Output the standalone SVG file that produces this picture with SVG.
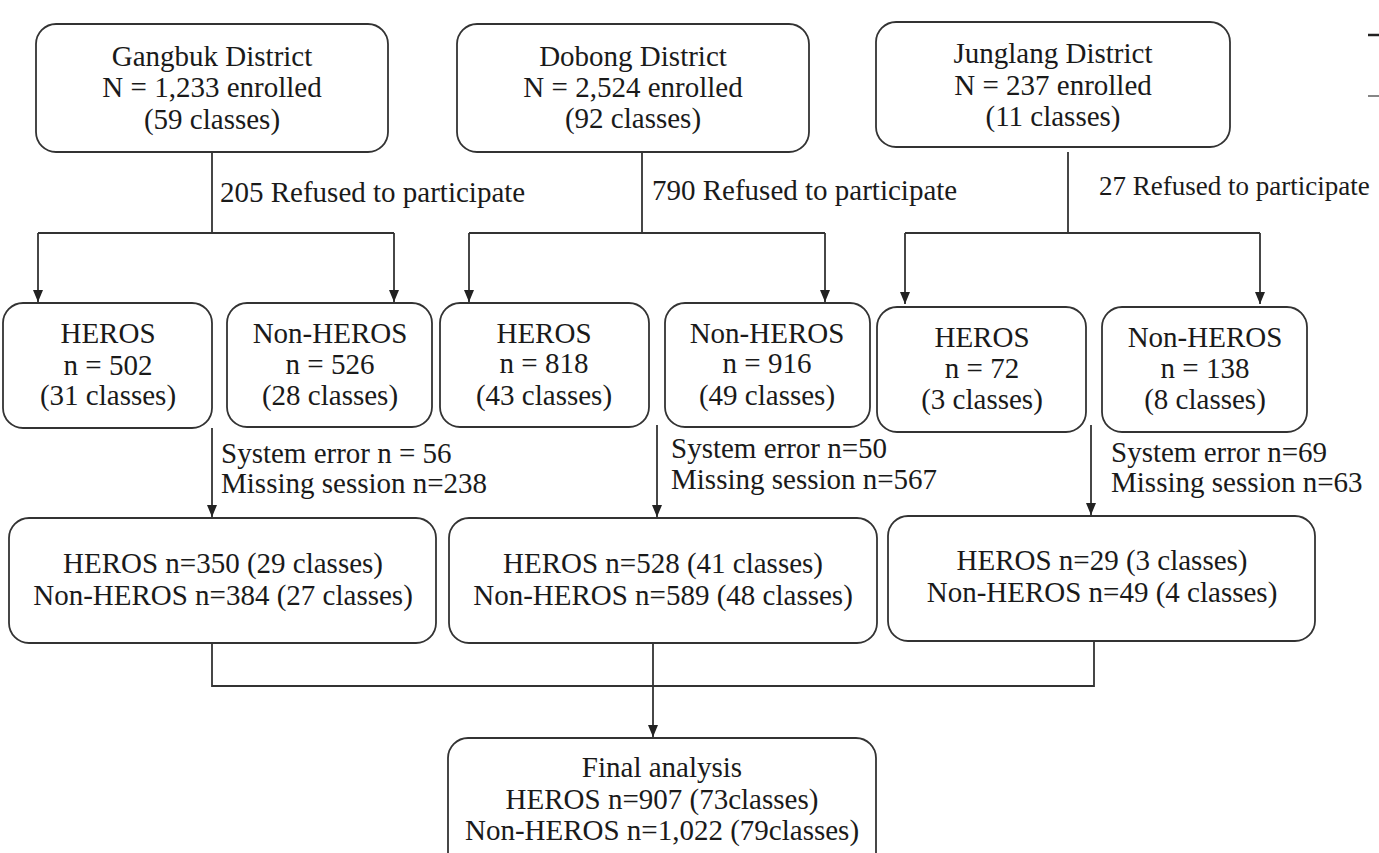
<svg xmlns="http://www.w3.org/2000/svg" width="1379" height="853" viewBox="0 0 1379 853">
<defs>
<marker id="arr" viewBox="0 0 12 12" markerWidth="12" markerHeight="12" refX="12" refY="6" orient="auto" markerUnits="userSpaceOnUse">
<path d="M0,1 L12,6 L0,11 z" fill="#222"/>
</marker>
<style>
.box{fill:#fff;stroke:#333;stroke-width:1.8}
.ln{fill:none;stroke:#333;stroke-width:1.8}
.ar{fill:none;stroke:#333;stroke-width:1.8;marker-end:url(#arr)}
text{font-family:"Liberation Serif","Times New Roman",serif;font-size:29px;fill:#1a1a1a}
.c{text-anchor:middle}
</style>
</defs>
<rect width="1379" height="853" fill="#fff"/>
<g id="connectors">
<path class="ln" d="M212,152 V233 M38,233 H394"/>
<path class="ar" d="M38,233 V302"/>
<path class="ar" d="M394,233 V302"/>
<path class="ln" d="M642,152 V233 M469,233 H825"/>
<path class="ar" d="M469,233 V302"/>
<path class="ar" d="M825,233 V302"/>
<path class="ln" d="M1068,152 V233 M905,233 H1260"/>
<path class="ar" d="M905,233 V304"/>
<path class="ar" d="M1260,233 V304"/>
<path class="ar" d="M212,428 V517"/>
<path class="ar" d="M657,425 V517"/>
<path class="ar" d="M1091,425 V515"/>
<path class="ln" d="M212,643 V686 H1094 V641 M653,643 V686"/>
<path class="ar" d="M653,686 V737"/>
</g>
<g id="lbl-refused">
<text x="220" y="202">205 Refused to participate</text>
<text x="652" y="200">790 Refused to participate</text>
<text x="1099" y="195" style="font-size:27px">27 Refused to participate</text>
</g>
<g id="lbl-missing">
<text x="221" y="463">System error n = 56</text>
<text x="221" y="493">Missing session n=238</text>
<text x="671" y="458">System error n=50</text>
<text x="671" y="489">Missing session n=567</text>
<text x="1111" y="462">System error n=69</text>
<text x="1111" y="492">Missing session n=63</text>
</g>
<g id="gangbuk">
<rect class="box" x="36" y="24" width="352" height="128" rx="20"/>
<text class="c" x="212" y="66">Gangbuk District</text>
<text class="c" x="212" y="97">N = 1,233 enrolled</text>
<text class="c" x="212" y="129">(59 classes)</text>
</g>
<g id="dobong">
<rect class="box" x="457" y="24" width="352" height="128" rx="20"/>
<text class="c" x="633" y="66">Dobong District</text>
<text class="c" x="633" y="97">N = 2,524 enrolled</text>
<text class="c" x="633" y="128">(92 classes)</text>
</g>
<g id="junglang">
<rect class="box" x="876" y="22" width="354" height="125" rx="20"/>
<text class="c" x="1053" y="63">Junglang District</text>
<text class="c" x="1053" y="95">N = 237 enrolled</text>
<text class="c" x="1053" y="126">(11 classes)</text>
</g>
<g id="g-heros">
<rect class="box" x="3" y="303" width="209" height="125" rx="20"/>
<text class="c" x="108" y="343">HEROS</text>
<text class="c" x="108" y="375">n = 502</text>
<text class="c" x="108" y="405">(31 classes)</text>
</g>
<g id="g-nonheros">
<rect class="box" x="227" y="303" width="205" height="124" rx="20"/>
<text class="c" x="330" y="343">Non-HEROS</text>
<text class="c" x="330" y="374">n = 526</text>
<text class="c" x="330" y="405">(28 classes)</text>
</g>
<g id="d-heros">
<rect class="box" x="440" y="303" width="209" height="124" rx="20"/>
<text class="c" x="544" y="343">HEROS</text>
<text class="c" x="544" y="373">n = 818</text>
<text class="c" x="544" y="405">(43 classes)</text>
</g>
<g id="d-nonheros">
<rect class="box" x="665" y="303" width="205" height="124" rx="20"/>
<text class="c" x="767" y="343">Non-HEROS</text>
<text class="c" x="767" y="373">n = 916</text>
<text class="c" x="767" y="405">(49 classes)</text>
</g>
<g id="j-heros">
<rect class="box" x="877" y="307" width="209" height="125" rx="20"/>
<text class="c" x="982" y="347">HEROS</text>
<text class="c" x="982" y="378">n = 72</text>
<text class="c" x="982" y="409">(3 classes)</text>
</g>
<g id="j-nonheros">
<rect class="box" x="1102" y="307" width="205" height="125" rx="20"/>
<text class="c" x="1205" y="347">Non-HEROS</text>
<text class="c" x="1205" y="378">n = 138</text>
<text class="c" x="1205" y="409">(8 classes)</text>
</g>
<g id="g-after">
<rect class="box" x="9" y="518" width="427" height="125" rx="20"/>
<text class="c" x="223" y="573">HEROS n=350 (29 classes)</text>
<text class="c" x="223" y="605">Non-HEROS n=384 (27 classes)</text>
</g>
<g id="d-after">
<rect class="box" x="449" y="518" width="428" height="125" rx="20"/>
<text class="c" x="663" y="573">HEROS n=528 (41 classes)</text>
<text class="c" x="663" y="605">Non-HEROS n=589 (48 classes)</text>
</g>
<g id="j-after">
<rect class="box" x="888" y="516" width="427" height="125" rx="20"/>
<text class="c" x="1102" y="570">HEROS n=29 (3 classes)</text>
<text class="c" x="1102" y="602">Non-HEROS n=49 (4 classes)</text>
</g>
<g id="final">
<rect class="box" x="448" y="738" width="428" height="140" rx="20"/>
<text class="c" x="662" y="777">Final analysis</text>
<text class="c" x="662" y="809">HEROS n=907 (73classes)</text>
<text class="c" x="662" y="840">Non-HEROS n=1,022 (79classes)</text>
</g>
<g id="marks">
<line x1="1368" y1="35" x2="1379" y2="35" stroke="#222" stroke-width="2.5"/>
<line x1="1368" y1="96" x2="1379" y2="96" stroke="#444" stroke-width="1.3"/>
</g>
</svg>
